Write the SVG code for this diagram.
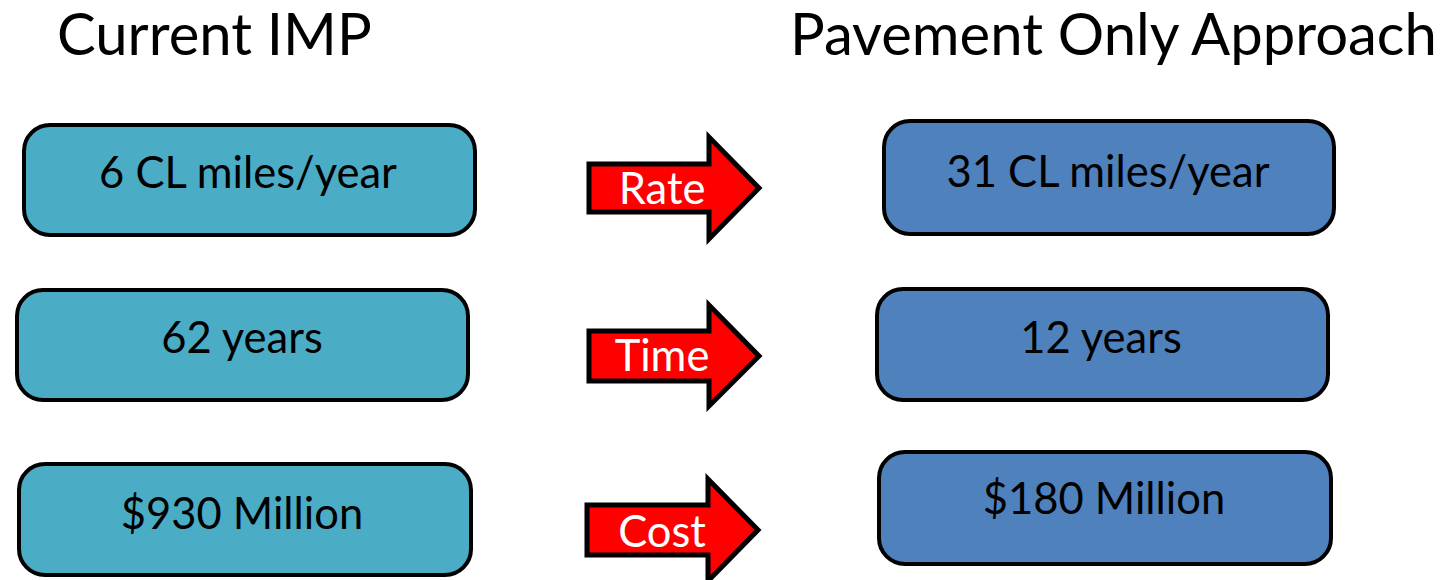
<svg xmlns="http://www.w3.org/2000/svg" width="1447" height="580" viewBox="0 0 1447 580">
<style>
.title{font-family:Lato,"Open Sans",sans-serif;font-size:58px;fill:#000}
.lbl{font-family:Lato,"Open Sans",sans-serif;font-size:43.5px;fill:#000;text-anchor:middle}
.albl{font-family:Lato,"Open Sans",sans-serif;font-size:43.5px;fill:#fff;text-anchor:middle}
.left{fill:#4BACC6;stroke:#000;stroke-width:4}
.right{fill:#4F81BD;stroke:#000;stroke-width:4}
.arr{fill:#FF0000;stroke:#000;stroke-width:5;stroke-linejoin:miter}
</style>
<rect width="1447" height="580" fill="#fff"/>
<g id="title-left"><text class="title" x="57" y="55">Current IMP</text></g>
<g id="title-right"><text class="title" x="790" y="55">Pavement Only Approach</text></g>
<g id="l1"><rect class="left" x="24" y="125" width="451" height="110" rx="26"/><text class="lbl" x="248" y="188">6 CL miles/year</text></g>
<g id="l2"><rect class="left" x="17" y="290" width="451" height="110" rx="26"/><text class="lbl" x="242" y="353">62 years</text></g>
<g id="l3"><rect class="left" x="19" y="464" width="452" height="111" rx="26"/><text class="lbl" x="242" y="529">$930 Million</text></g>
<g id="r1"><rect class="right" x="884" y="121" width="450" height="113" rx="26"/><text class="lbl" x="1108" y="187">31 CL miles/year</text></g>
<g id="r2"><rect class="right" x="877" y="289" width="451" height="111" rx="26"/><text class="lbl" x="1101" y="353">12 years</text></g>
<g id="r3"><rect class="right" x="879" y="452" width="452" height="112" rx="26"/><text class="lbl" x="1104" y="514">$180 Million</text></g>
<g id="connectors">
<g id="a1"><path class="arr" d="M589,164 H709 V137 L759,188 L709,239 V212 H589 Z"/><text class="albl" x="662" y="204">Rate</text></g>
<g id="a2"><path class="arr" d="M589,331 H709 V305 L759,356 L709,406 V381 H589 Z"/><text class="albl" x="662" y="371">Time</text></g>
<g id="a3"><path class="arr" d="M587,505 H708 V479 L758,530 L708,581 V555 H587 Z"/><text class="albl" x="662" y="547">Cost</text></g>
</g>
</svg>
